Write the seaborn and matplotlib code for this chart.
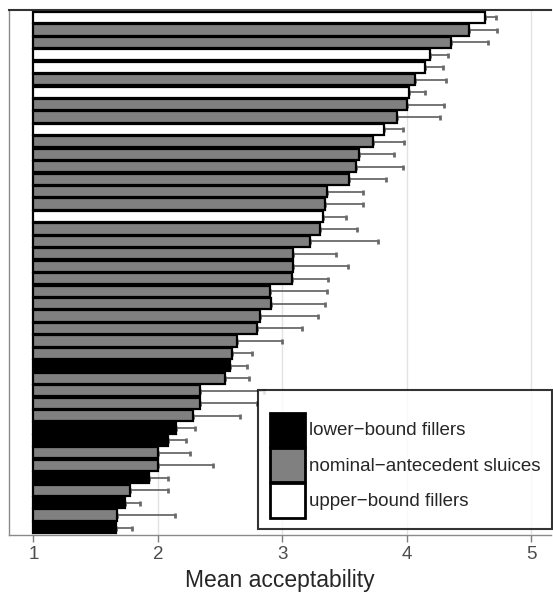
import numpy as np
import pandas as pd
import seaborn as sns
import matplotlib.pyplot as plt
from matplotlib.patches import Patch

# one entry per bar, top to bottom
conditions = ["upper", "nominal", "nominal", "upper", "upper", "nominal", "upper", "nominal",
              "nominal", "upper", "nominal", "nominal", "nominal", "nominal", "nominal", "nominal",
              "upper", "nominal", "nominal", "nominal", "nominal", "nominal", "nominal", "nominal",
              "nominal", "nominal", "nominal", "nominal", "lower", "nominal", "nominal", "nominal",
              "nominal", "lower", "lower", "nominal", "nominal", "lower", "nominal", "lower",
              "nominal", "lower"]
means = [4.63, 4.50, 4.36, 4.19, 4.15, 4.07, 4.02, 4.00, 3.92, 3.82, 3.73, 3.62, 3.59, 3.54,
         3.36, 3.34, 3.33, 3.30, 3.22, 3.09, 3.09, 3.08, 2.90, 2.91, 2.82, 2.80, 2.64, 2.60,
         2.58, 2.54, 2.34, 2.34, 2.28, 2.15, 2.08, 2.00, 2.00, 1.93, 1.78, 1.74, 1.67, 1.66]
upper_ci = [4.72, 4.73, 4.65, 4.33, 4.29, 4.32, 4.15, 4.30, 4.27, 3.97, 3.98, 3.90, 3.97, 3.83,
            3.65, 3.65, 3.51, 3.60, 3.77, 3.43, 3.53, 3.37, 3.36, 3.34, 3.29, 3.16, 3.00, 2.76,
            2.72, 2.73, 2.85, 2.80, 2.66, 2.30, 2.23, 2.26, 2.44, 2.08, 2.08, 1.86, 2.14, 1.79]

labels = {"lower": "lower\u2212bound fillers",
          "nominal": "nominal\u2212antecedent sluices",
          "upper": "upper\u2212bound fillers"}
colors = {"lower": "black", "nominal": "#808080", "upper": "white"}
tick_values = [1, 2, 3, 4, 5]
base = 1  # bars start at the bottom of the rating scale

df = pd.DataFrame({"item": [f"item{i:02d}" for i in range(len(means))],
                   "condition": conditions, "mean": means, "upper": upper_ci})
df["length"] = df["mean"] - base

sns.set_style("white")
plt.rcParams["font.family"] = ["Liberation Sans", "DejaVu Sans"]

fig = plt.figure(figsize=(5.53, 5.92), dpi=100)
ax = fig.add_axes([8.5 / 553, 1 - 535 / 592, (551 - 8.5) / 553, 525 / 592])

# error bars go first so that the bars hide the lower half
ax.errorbar(df["length"], np.arange(len(df)),
            xerr=[np.zeros(len(df)), df["upper"] - df["mean"]],
            fmt="none", ecolor="#6a6a6a", elinewidth=1.3, capsize=1.8, capthick=2, zorder=2)

sns.barplot(data=df, x="length", y="item", hue="condition", order=df["item"],
            palette=colors, dodge=False, width=0.9, edgecolor="black", linewidth=1.6,
            errorbar=None, legend=False, zorder=3, ax=ax)

ax.set_xlim(0.80 - base, 5.16 - base)
ax.set_ylim(len(df) - 0.4, -0.6)
ax.set_xticks([t - base for t in tick_values], labels=[str(t) for t in tick_values])
ax.set_yticks([])
ax.set_ylabel("")
ax.set_xlabel("Mean acceptability", fontsize=16.5, labelpad=4)
ax.tick_params(axis="x", bottom=True, length=5, width=1, color="#7f7f7f",
               labelcolor="#4d4d4d", labelsize=13.5, pad=3)

ax.xaxis.grid(True, color="#e3e3e3", linewidth=1)
ax.set_axisbelow(True)
for side in ["left", "bottom"]:
    ax.spines[side].set_color("#8a8a8a")
    ax.spines[side].set_linewidth(1)
ax.spines["top"].set_color("#333333")
ax.spines["top"].set_linewidth(1.5)
ax.spines["right"].set_visible(False)

handles = [Patch(facecolor=colors[k], edgecolor="black", linewidth=2, label=labels[k])
           for k in ["lower", "nominal", "upper"]]
leg = ax.legend(handles=handles, loc="lower right",
                bbox_to_anchor=(551.7 / 553, 1 - 529 / 592), bbox_transform=fig.transFigure,
                borderaxespad=0, fontsize=13.5, frameon=True, fancybox=False,
                handlelength=1.9, handleheight=2.45, labelspacing=0.05, handletextpad=0.2,
                borderpad=0.6, title=" ", title_fontsize=8)
leg.get_frame().set_edgecolor("black")
leg.get_frame().set_linewidth(1.5)
leg.set_zorder(10)

fig.savefig("out.png", dpi=100)
